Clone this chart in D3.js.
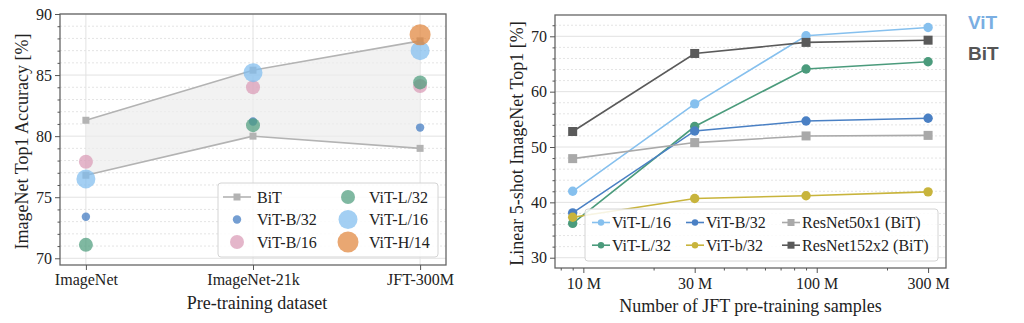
<!DOCTYPE html>
<html>
<head>
<meta charset="utf-8">
<script src="https://cdn.jsdelivr.net/npm/d3@7"></script>
<style>
  body { margin: 0; background: #fff; }
  svg { display: block; font-family: "Liberation Serif", "Times New Roman", serif; }
  .frame { fill: none; stroke: #666; stroke-width: 1.3; }
  .grid-major { stroke: #e2e2e2; stroke-width: 1; }
  .grid-minor { stroke: #e4e4e4; stroke-width: 1; stroke-dasharray: 2,2; }
  .axis text { font-family: "Liberation Serif", serif; font-size: 16px; fill: #222; }
  .axis line { stroke: #555; }
  .axis path.domain { display: none; }
  .axis-label { font-size: 18px; fill: #222; }
  .legend-box { fill: #fff; fill-opacity: 0.85; stroke: #d4d4d4; }
  .legend-text { font-size: 16px; fill: #222; }
</style>
</head>
<body>
<svg id="chart" width="1024" height="323"></svg>
<script>
// ---- left panel data: top-1 accuracy per pre-training dataset ----
const datasets = ["ImageNet", "ImageNet-21k", "JFT-300M"];
const bitUpper = [81.3, 85.4, 87.8];
const bitLower = [76.8, 80.0, 79.0];
const vitB32 = [73.4, 81.2, 80.7];
const vitB16 = [77.9, 84.0, 84.1];
const vitL32 = [71.1, 80.9, 84.4];
const vitL16 = [76.5, 85.2, 87.0];
const vitH14 = [null, null, 88.3];
const accTicks = [70, 75, 80, 85, 90];

// ---- right panel data: linear 5-shot accuracy vs. JFT subset size (millions) ----
const samples = [9, 30, 90, 300];
const sampleTicks = [10, 30, 100, 300];
const sampleMinor = [8, 9, 20, 40, 50, 60, 70, 80, 90, 200];
const shotL16 = [42.0, 57.8, 70.1, 71.6];
const shotL32 = [36.2, 53.7, 64.1, 65.4];
const shotB32 = [38.1, 52.9, 54.7, 55.2];
const shotb32 = [37.3, 40.7, 41.2, 41.9];
const shotR50 = [47.9, 50.8, 52.0, 52.1];
const shotR152 = [52.8, 66.9, 68.9, 69.3];
const shotTicks = [30, 40, 50, 60, 70];

let svg = d3.select('#chart');

// small helper: a frame box with major/minor horizontal grid
function drawGrid(g, box, yScale, major, minor) {
    g.selectAll('line.grid-minor').data(minor).join('line')
        .attr('class', 'grid-minor')
        .attr('x1', box.left).attr('x2', box.right)
        .attr('y1', d => yScale(d)).attr('y2', d => yScale(d));
    g.selectAll('line.grid-major').data(major).join('line')
        .attr('class', 'grid-major')
        .attr('x1', box.left).attr('x2', box.right)
        .attr('y1', d => yScale(d)).attr('y2', d => yScale(d));
}

// =================== left panel ===================
let L = {left: 60, right: 446, top: 14, bottom: 265};
let xL = d3.scalePoint().domain(datasets).range([L.left, L.right]).padding(0.155);
let yL = d3.scaleLinear().domain([69.45, 90]).range([L.bottom, L.top]);

let left = svg.append('g');
let minorL = d3.range(70, 90).filter(v => v % 5 !== 0);

drawGrid(left, L, yL, accTicks, minorL);

// vertical grid at each dataset
left.selectAll('line.vgrid').data(datasets).join('line')
    .attr('class', 'grid-major')
    .attr('x1', d => xL(d)).attr('x2', d => xL(d))
    .attr('y1', L.top).attr('y2', L.bottom);

// BiT range: shaded band between the two BiT curves
let bitBand = d3.area()
    .x((d, i) => xL(datasets[i]))
    .y0((d, i) => yL(bitLower[i]))
    .y1(d => yL(d));
left.append('path').datum(bitUpper)
    .attr('d', bitBand)
    .attr('fill', '#ececec').attr('fill-opacity', 0.7);

let bitLine = d3.line().x((d, i) => xL(datasets[i])).y(d => yL(d));
[bitUpper, bitLower].forEach(series => {
    left.append('path').datum(series)
        .attr('d', bitLine)
        .attr('fill', 'none').attr('stroke', '#b3b3b3').attr('stroke-width', 1.6);
    left.selectAll(null).data(series).join('rect')
        .attr('x', (d, i) => xL(datasets[i]) - 3.5)
        .attr('y', d => yL(d) - 3.5)
        .attr('width', 7).attr('height', 7)
        .attr('fill', '#b3b3b3');
});

// ViT models as bubbles, size grows with model size
let vitSeries = [
    {name: 'ViT-B/32', values: vitB32, color: '#3f78c0', r: 4.2},
    {name: 'ViT-B/16', values: vitB16, color: '#d99ab5', r: 7},
    {name: 'ViT-L/32', values: vitL32, color: '#4e9d7d', r: 7},
    {name: 'ViT-L/16', values: vitL16, color: '#7fbcef', r: 9.5},
    {name: 'ViT-H/14', values: vitH14, color: '#e0853c', r: 10.5}
];
vitSeries.forEach(s => {
    left.selectAll(null)
        .data(s.values.map((v, i) => ({v, ds: datasets[i]})).filter(d => d.v !== null))
        .join('circle')
        .attr('cx', d => xL(d.ds))
        .attr('cy', d => yL(d.v))
        .attr('r', s.r)
        .attr('fill', s.color)
        .attr('fill-opacity', 0.72);
});

left.append('rect').attr('class', 'frame')
    .attr('x', L.left).attr('y', L.top)
    .attr('width', L.right - L.left).attr('height', L.bottom - L.top);

// axes
left.append('g').attr('class', 'axis')
    .attr('transform', `translate(${L.left},0)`)
    .call(d3.axisLeft(yL).tickValues(accTicks).tickSize(5).tickPadding(3));
left.append('g').attr('class', 'axis')
    .attr('transform', `translate(${L.left},0)`)
    .call(d3.axisLeft(yL).tickValues(minorL).tickSize(2.5).tickFormat(''));
left.append('g').attr('class', 'axis')
    .attr('transform', `translate(0,${L.bottom})`)
    .call(d3.axisBottom(xL).tickSize(5).tickPadding(4));

left.append('text').attr('class', 'axis-label')
    .attr('text-anchor', 'middle')
    .attr('x', (L.left + L.right) / 2 + 4).attr('y', 309)
    .text('Pre-training dataset');
left.append('text').attr('class', 'axis-label')
    .attr('text-anchor', 'middle')
    .attr('transform', `translate(28,${(L.top + L.bottom) / 2 + 2}) rotate(-90)`)
    .text('ImageNet Top1 Accuracy [%]');

// legend (two columns)
let legL = left.append('g');
legL.append('rect').attr('class', 'legend-box')
    .attr('x', 218).attr('y', 183).attr('width', 220).attr('height', 74).attr('rx', 3);
let legItems = [{name: 'BiT', bit: true}].concat(vitSeries);
legItems.forEach((s, i) => {
    let col = Math.floor(i / 3), row = i % 3;
    let mx = col === 0 ? 237 : 348, cy = 197 + row * 22.5;
    if (s.bit) {
        legL.append('line').attr('x1', mx - 14).attr('x2', mx + 14)
            .attr('y1', cy).attr('y2', cy)
            .attr('stroke', '#b3b3b3').attr('stroke-width', 1.6);
        legL.append('rect').attr('x', mx - 3.5).attr('y', cy - 3.5)
            .attr('width', 7).attr('height', 7).attr('fill', '#b3b3b3');
    } else {
        legL.append('circle').attr('cx', mx).attr('cy', cy).attr('r', s.r)
            .attr('fill', s.color).attr('fill-opacity', 0.72);
    }
    legL.append('text').attr('class', 'legend-text')
        .attr('x', col === 0 ? 257 : 369).attr('y', cy + 5.5)
        .text(s.name);
});

// =================== right panel ===================
let R = {left: 555, right: 946, top: 15, bottom: 268};
let xR = d3.scaleLog().domain([7.56, 358]).range([R.left, R.right]);
let yR = d3.scaleLinear().domain([28.14, 73.85]).range([R.bottom, R.top]);

let right = svg.append('g');
let minorR = d3.range(30, 73, 2).filter(v => v % 10 !== 0);

drawGrid(right, R, yR, shotTicks, minorR);

let shotSeries = [
    {name: 'ViT-L/16', values: shotL16, color: '#86c0ee', shape: 'circle'},
    {name: 'ViT-L/32', values: shotL32, color: '#4b9b7c', shape: 'circle'},
    {name: 'ViT-B/32', values: shotB32, color: '#4a80c4', shape: 'circle'},
    {name: 'ViT-b/32', values: shotb32, color: '#c8b43c', shape: 'circle'},
    {name: 'ResNet50x1 (BiT)', values: shotR50, color: '#a9a9a9', shape: 'square'},
    {name: 'ResNet152x2 (BiT)', values: shotR152, color: '#5a5a5a', shape: 'square'}
];
let shotLine = d3.line().x((d, i) => xR(samples[i])).y(d => yR(d));

shotSeries.forEach(s => {
    right.append('path').datum(s.values)
        .attr('d', shotLine)
        .attr('fill', 'none').attr('stroke', s.color).attr('stroke-width', 1.6);
    if (s.shape === 'circle') {
        right.selectAll(null).data(s.values).join('circle')
            .attr('cx', (d, i) => xR(samples[i])).attr('cy', d => yR(d))
            .attr('r', 4.7).attr('fill', s.color);
    } else {
        right.selectAll(null).data(s.values).join('rect')
            .attr('x', (d, i) => xR(samples[i]) - 4.5).attr('y', d => yR(d) - 4.5)
            .attr('width', 9).attr('height', 9).attr('fill', s.color);
    }
});

right.append('rect').attr('class', 'frame')
    .attr('x', R.left).attr('y', R.top)
    .attr('width', R.right - R.left).attr('height', R.bottom - R.top);

right.append('g').attr('class', 'axis')
    .attr('transform', `translate(${R.left},0)`)
    .call(d3.axisLeft(yR).tickValues(shotTicks).tickSize(5).tickPadding(3));
right.append('g').attr('class', 'axis')
    .attr('transform', `translate(${R.left},0)`)
    .call(d3.axisLeft(yR).tickValues(minorR).tickSize(2.5).tickFormat(''));
right.append('g').attr('class', 'axis')
    .attr('transform', `translate(0,${R.bottom})`)
    .call(d3.axisBottom(xR).tickValues(sampleTicks).tickFormat(d => d + ' M').tickSize(5).tickPadding(5));
right.append('g').attr('class', 'axis')
    .attr('transform', `translate(0,${R.bottom})`)
    .call(d3.axisBottom(xR).tickValues(sampleMinor).tickSize(2.5).tickFormat(''));

right.append('text').attr('class', 'axis-label')
    .attr('text-anchor', 'middle')
    .attr('x', (R.left + R.right) / 2).attr('y', 312)
    .text('Number of JFT pre-training samples');
right.append('text').attr('class', 'axis-label')
    .attr('text-anchor', 'middle')
    .attr('transform', `translate(523,${(R.top + R.bottom) / 2 + 2}) rotate(-90)`)
    .text('Linear 5-shot ImageNet Top1 [%]');

// legend (three columns, two rows)
let legR = right.append('g');
legR.append('rect').attr('class', 'legend-box')
    .attr('x', 585).attr('y', 209).attr('width', 353).attr('height', 52).attr('rx', 3);
let colX = [592, 686, 782];
shotSeries.forEach((s, i) => {
    let col = Math.floor(i / 2), row = i % 2;
    let x0 = colX[col], cy = 222.5 + row * 22.7;
    legR.append('line').attr('x1', x0).attr('x2', x0 + 18)
        .attr('y1', cy).attr('y2', cy)
        .attr('stroke', s.color).attr('stroke-width', 1.6);
    if (s.shape === 'circle') {
        legR.append('circle').attr('cx', x0 + 9).attr('cy', cy).attr('r', 3.2).attr('fill', s.color);
    } else {
        legR.append('rect').attr('x', x0 + 5.5).attr('y', cy - 3.5)
            .attr('width', 7).attr('height', 7).attr('fill', s.color);
    }
    legR.append('text').attr('class', 'legend-text')
        .attr('x', x0 + 20).attr('y', cy + 5.5)
        .text(s.name);
});

// model family tags
svg.append('text').attr('x', 968).attr('y', 28.5)
    .style('font-family', '"Liberation Sans", Arial, sans-serif')
    .style('font-weight', 'bold').style('font-size', '19px')
    .attr('fill', '#7aaee2').text('ViT');
svg.append('text').attr('x', 968).attr('y', 60)
    .style('font-family', '"Liberation Sans", Arial, sans-serif')
    .style('font-weight', 'bold').style('font-size', '19px')
    .attr('fill', '#555').text('BiT');
</script>
</body>
</html>
